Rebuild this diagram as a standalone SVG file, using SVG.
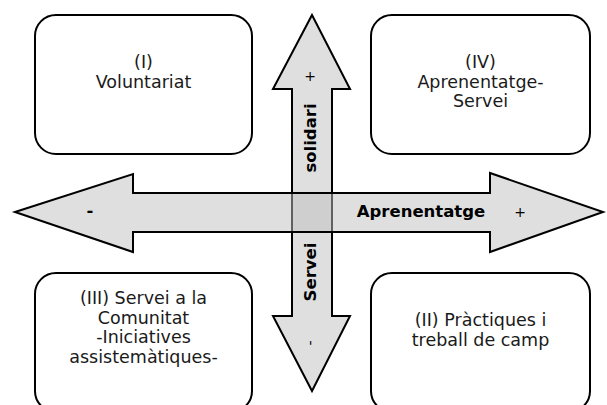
<svg xmlns="http://www.w3.org/2000/svg" width="607" height="405" viewBox="0 0 607 405">
  <style>
    .box { fill: #ffffff; stroke: #000000; stroke-width: 2; }
    .arrow { fill: #c0c0c0; fill-opacity: 0.5; stroke: #000000; stroke-width: 2; stroke-linejoin: miter; }
    .t { font-family: "DejaVu Sans", Verdana, sans-serif; font-size: 17.5px; fill: #1a1a1a; text-anchor: middle; }
    .b { font-family: "DejaVu Sans", Verdana, sans-serif; font-size: 16.5px; font-weight: bold; fill: #000000; text-anchor: middle; }
    .s { font-family: "DejaVu Sans", Verdana, sans-serif; font-size: 14px; fill: #000000; text-anchor: middle; }
  </style>
  <rect width="607" height="405" fill="#ffffff"/>
  <g id="axes">
    <polygon id="axis-servei-solidari" class="arrow" points="312,15 350,89 332,89 332,316 350,316 312,391 273,316 292,316 292,89 273,89"/>
    <polygon id="axis-aprenentatge" class="arrow" points="15,212 133,174 133,193 490,193 490,173 603,212 490,252 490,232 133,232 133,252"/>
    <text class="b" transform="translate(316,138) rotate(-90)">solidari</text>
    <text class="b" transform="translate(316,272) rotate(-90)">Servei</text>
    <text class="b" x="421" y="217">Aprenentatge</text>
    <text class="b" x="90" y="216">-</text>
    <text class="s" x="520" y="217">+</text>
    <text class="s" x="310" y="81">+</text>
    <text class="s" transform="translate(315,343) rotate(-90)">-</text>
  </g>
  <g id="node-I">
    <rect class="box" x="35" y="15" width="217" height="139" rx="21" ry="21"/>
    <text class="t" x="143.5" y="68">(I)</text>
    <text class="t" x="143.5" y="87.5">Voluntariat</text>
  </g>
  <g id="node-IV">
    <rect class="box" x="371" y="15" width="219" height="139" rx="21" ry="21"/>
    <text class="t" x="480.5" y="68">(IV)</text>
    <text class="t" x="480.5" y="87.5">Aprenentatge-</text>
    <text class="t" x="480.5" y="107">Servei</text>
  </g>
  <g id="node-III">
    <rect class="box" x="35" y="273" width="217" height="139" rx="21" ry="21"/>
    <text class="t" x="143.5" y="304">(III) Servei a la</text>
    <text class="t" x="143.5" y="323.5">Comunitat</text>
    <text class="t" x="143.5" y="343">-Iniciatives</text>
    <text class="t" x="143.5" y="362.5">assistemàtiques-</text>
  </g>
  <g id="node-II">
    <rect class="box" x="371" y="273" width="219" height="139" rx="21" ry="21"/>
    <text class="t" x="480.5" y="326">(II) Pràctiques i</text>
    <text class="t" x="480.5" y="345.5">treball de camp</text>
  </g>
</svg>
